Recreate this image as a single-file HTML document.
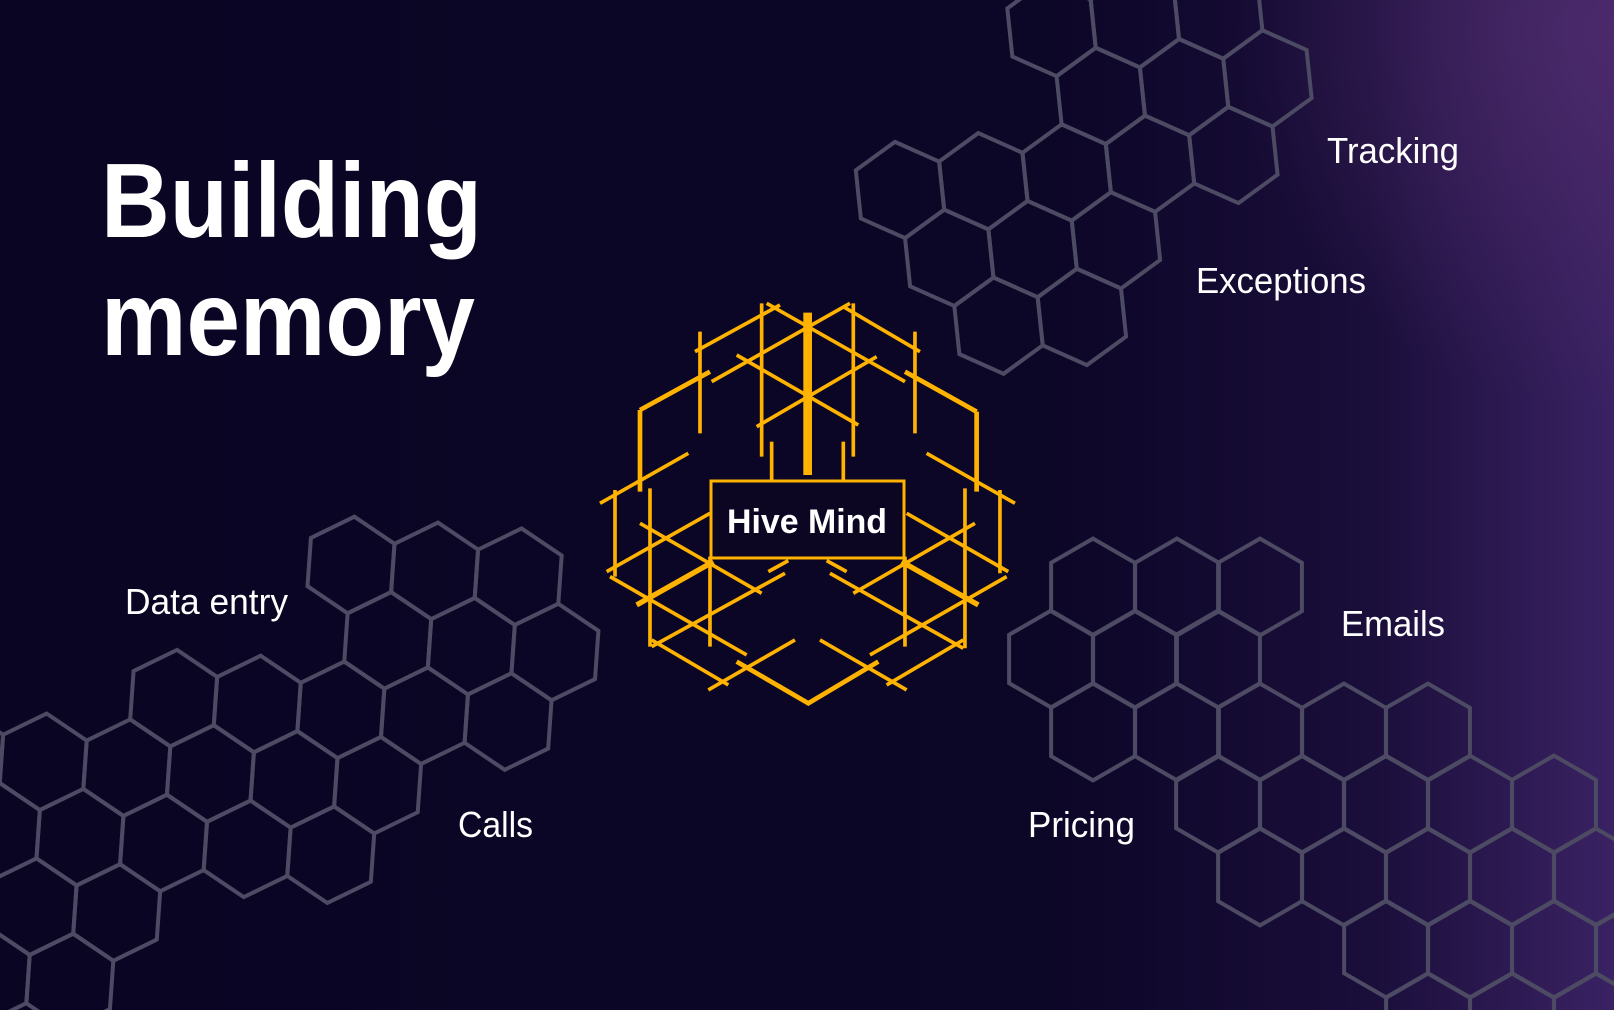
<!DOCTYPE html>
<html><head><meta charset="utf-8"><style>
html,body{margin:0;padding:0;background:#0b0524;width:1614px;height:1010px;overflow:hidden;}
svg{display:block;}
</style></head><body>
<svg width="1614" height="1010" viewBox="0 0 1614 1010" xmlns="http://www.w3.org/2000/svg">
<defs>
<linearGradient id="bg" x1="0" y1="0" x2="1" y2="0">
<stop offset="0" stop-color="#0b0524"/>
<stop offset="0.65" stop-color="#0c0627"/>
<stop offset="0.85" stop-color="#1a0e3a"/>
<stop offset="1" stop-color="#3a2263"/>
</linearGradient>
<radialGradient id="rg" cx="1614" cy="30" r="380" gradientUnits="userSpaceOnUse">
<stop offset="0" stop-color="#4e2b6c" stop-opacity="0.85"/>
<stop offset="1" stop-color="#4e2b6c" stop-opacity="0"/>
</radialGradient>
<polygon id="h" points="0,-48.4 41.9,-24.2 41.9,24.2 0,48.4 -41.9,24.2 -41.9,-24.2" fill="none" stroke="#4d4a63" stroke-width="4" stroke-linejoin="miter"/>
</defs>
<rect width="1614" height="1010" fill="url(#bg)"/>
<rect width="1614" height="1010" fill="url(#rg)"/>

<g transform="translate(900,190) rotate(-6)">
<use href="#h" x="167.6" y="-145.2"/><use href="#h" x="251.4" y="-145.2"/><use href="#h" x="335.2" y="-145.2"/>
<use href="#h" x="209.5" y="-72.6"/><use href="#h" x="293.3" y="-72.6"/><use href="#h" x="377.1" y="-72.6"/>
<use href="#h" x="0" y="0"/><use href="#h" x="83.8" y="0"/><use href="#h" x="167.6" y="0"/><use href="#h" x="251.4" y="0"/><use href="#h" x="335.2" y="0"/>
<use href="#h" x="41.9" y="72.6"/><use href="#h" x="125.7" y="72.6"/><use href="#h" x="209.5" y="72.6"/>
<use href="#h" x="83.8" y="145.2"/><use href="#h" x="167.6" y="145.2"/>
</g>

<g transform="translate(351,565) rotate(4)">
<use href="#h" x="0" y="0"/><use href="#h" x="83.8" y="0"/><use href="#h" x="167.6" y="0"/>
<use href="#h" x="41.9" y="72.6"/><use href="#h" x="125.7" y="72.6"/><use href="#h" x="209.5" y="72.6"/>
<use href="#h" x="-167.6" y="145.2"/><use href="#h" x="-83.8" y="145.2"/><use href="#h" x="0" y="145.2"/><use href="#h" x="83.8" y="145.2"/><use href="#h" x="167.6" y="145.2"/>
<use href="#h" x="-377.1" y="217.8"/><use href="#h" x="-293.3" y="217.8"/><use href="#h" x="-209.5" y="217.8"/><use href="#h" x="-125.7" y="217.8"/><use href="#h" x="-41.9" y="217.8"/><use href="#h" x="41.9" y="217.8"/>
<use href="#h" x="-335.2" y="290.4"/><use href="#h" x="-251.4" y="290.4"/><use href="#h" x="-167.6" y="290.4"/><use href="#h" x="-83.8" y="290.4"/><use href="#h" x="0" y="290.4"/>
<use href="#h" x="-377.1" y="363"/><use href="#h" x="-293.3" y="363"/><use href="#h" x="-209.5" y="363"/>
<use href="#h" x="-335.2" y="435.6"/><use href="#h" x="-251.4" y="435.6"/>
</g>

<g>
<use href="#h" x="1093" y="587"/><use href="#h" x="1177" y="587"/><use href="#h" x="1260" y="587"/>
<use href="#h" x="1051" y="659"/><use href="#h" x="1135" y="659"/><use href="#h" x="1218" y="659"/>
<use href="#h" x="1093" y="732"/><use href="#h" x="1177" y="732"/><use href="#h" x="1260" y="732"/><use href="#h" x="1344" y="732"/><use href="#h" x="1428" y="732"/>
<use href="#h" x="1218" y="804"/><use href="#h" x="1302" y="804"/><use href="#h" x="1386" y="804"/><use href="#h" x="1470" y="804"/><use href="#h" x="1554" y="804"/>
<use href="#h" x="1260" y="877"/><use href="#h" x="1344" y="877"/><use href="#h" x="1428" y="877"/><use href="#h" x="1512" y="877"/><use href="#h" x="1596" y="877"/>
<use href="#h" x="1386" y="949"/><use href="#h" x="1470" y="949"/><use href="#h" x="1554" y="949"/><use href="#h" x="1638" y="949"/>
<use href="#h" x="1428" y="1022"/><use href="#h" x="1512" y="1022"/><use href="#h" x="1596" y="1022"/>
</g>

<g transform="translate(580,290) scale(0.3333)" stroke="#ffb300" stroke-width="11" fill="none" stroke-linecap="butt">
<line x1="180" y1="360" x2="390" y2="245" stroke-width="14"/>
<line x1="180" y1="360" x2="180" y2="605" stroke-width="14"/>
<line x1="60" y1="640" x2="325" y2="490"/>
<line x1="345" y1="185" x2="600" y2="45"/>
<line x1="560" y1="40" x2="975" y2="275"/>
<line x1="810" y1="40" x2="395" y2="275"/>
<line x1="790" y1="50" x2="1020" y2="185"/>
<line x1="360" y1="125" x2="360" y2="430"/>
<line x1="545" y1="40" x2="545" y2="500"/>
<line x1="820" y1="40" x2="820" y2="500"/>
<line x1="1005" y1="125" x2="1005" y2="430"/>
<line x1="575" y1="455" x2="575" y2="570"/>
<line x1="790" y1="455" x2="790" y2="570"/>
<line x1="683" y1="68" x2="683" y2="555" stroke-width="26"/>
<line x1="470" y1="195" x2="835" y2="405"/>
<line x1="890" y1="200" x2="530" y2="410"/>
<line x1="975" y1="245" x2="1190" y2="365" stroke-width="14"/>
<line x1="1190" y1="365" x2="1190" y2="605" stroke-width="14"/>
<line x1="1040" y1="490" x2="1305" y2="640"/>
<line x1="105" y1="600" x2="105" y2="860"/>
<line x1="210" y1="595" x2="210" y2="1070"/>
<line x1="1155" y1="595" x2="1155" y2="1075"/>
<line x1="1260" y1="600" x2="1260" y2="850"/>
<line x1="80" y1="845" x2="390" y2="670"/>
<line x1="980" y1="670" x2="1285" y2="845"/>
<line x1="180" y1="700" x2="545" y2="910"/>
<line x1="1185" y1="700" x2="820" y2="910"/>
<line x1="90" y1="860" x2="500" y2="1095"/>
<line x1="1280" y1="860" x2="870" y2="1095"/>
<line x1="170" y1="945" x2="400" y2="815" stroke-width="16"/>
<line x1="1195" y1="945" x2="965" y2="815" stroke-width="16"/>
<line x1="215" y1="1070" x2="615" y2="850"/>
<line x1="1150" y1="1075" x2="750" y2="850"/>
<line x1="215" y1="1050" x2="445" y2="1185"/>
<line x1="1150" y1="1050" x2="920" y2="1185"/>
<line x1="385" y1="1200" x2="645" y2="1050"/>
<line x1="980" y1="1200" x2="720" y2="1050"/>
<polyline points="470,1115 685,1240 895,1115" stroke-width="14"/>
<line x1="390" y1="800" x2="390" y2="1070"/>
<line x1="975" y1="800" x2="975" y2="1070"/>
<line x1="565" y1="845" x2="625" y2="812"/>
<line x1="800" y1="845" x2="740" y2="812"/>
</g>
<rect x="711" y="481" width="193" height="77" fill="#0c0623" stroke="#ffb300" stroke-width="3"/>
<text x="807" y="533" text-anchor="middle" font-family="Liberation Sans, sans-serif" font-weight="bold" font-size="34" fill="#ffffff" textLength="160" lengthAdjust="spacingAndGlyphs">Hive Mind</text>

<g font-family="Liberation Sans, sans-serif" font-weight="bold" fill="#ffffff">
<text x="101" y="237" font-size="106" textLength="381" lengthAdjust="spacingAndGlyphs">Building</text>
<text x="101" y="355" font-size="106" textLength="374" lengthAdjust="spacingAndGlyphs">memory</text>
</g>

<g font-family="Liberation Sans, sans-serif" font-size="36" fill="#ffffff">
<text x="1327" y="163" textLength="132" lengthAdjust="spacingAndGlyphs">Tracking</text>
<text x="1196" y="293" textLength="170" lengthAdjust="spacingAndGlyphs">Exceptions</text>
<text x="125" y="614" textLength="163" lengthAdjust="spacingAndGlyphs">Data entry</text>
<text x="458" y="837" textLength="75" lengthAdjust="spacingAndGlyphs">Calls</text>
<text x="1341" y="636" textLength="104" lengthAdjust="spacingAndGlyphs">Emails</text>
<text x="1028" y="837" textLength="107" lengthAdjust="spacingAndGlyphs">Pricing</text>
</g>
</svg>
</body></html>
